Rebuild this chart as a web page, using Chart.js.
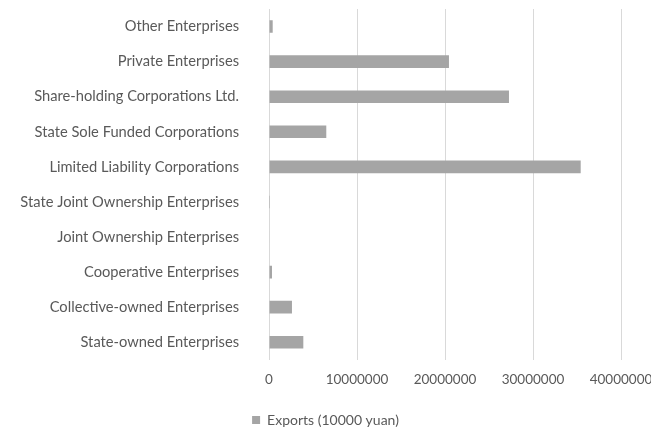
<!DOCTYPE html>
<html>
<head>
<meta charset="utf-8">
<script src="https://cdn.jsdelivr.net/npm/chart.js@4"></script>
<style>
  html, body { margin:0; padding:0; background:#fff; overflow:hidden; }
  #wrap { width:651px; height:432px; }
</style>
</head>
<body>
<div id="wrap"><canvas id="exportsChart" width="651" height="432"></canvas></div>
<script>
// enterprise types, listed top to bottom
const categories = [
  'Other Enterprises',
  'Private Enterprises',
  'Share-holding Corporations Ltd.',
  'State Sole Funded Corporations',
  'Limited Liability Corporations',
  'State Joint Ownership Enterprises',
  'Joint Ownership Enterprises',
  'Cooperative Enterprises',
  'Collective-owned Enterprises',
  'State-owned Enterprises'
];
const exports10k = [420000, 20450000, 27270000, 6510000, 35420000, 10000, 60000, 340000, 2610000, 3900000];
const seriesName = 'Exports (10000 yuan)';
const xTicks = [0, 10000000, 20000000, 30000000, 40000000];

const textColor = '#595959';
const family = 'Lato, "Open Sans", sans-serif';

const ctx = document.getElementById('exportsChart').getContext('2d');
new Chart(ctx, {
  type:'bar',
  data:{
    labels:categories,
    datasets:[{
      label:seriesName,
      data:exports10k,
      backgroundColor:'#a5a5a5',
      barPercentage:0.45,
      categoryPercentage:0.8
    }]
  },
  options:{
    indexAxis:'y',
    responsive:false,
    animation:false,
    // legend row sits low, so let its box run a little past the bottom edge
    layout:{ padding:{ top:9, left:0, right:0, bottom:-5 } },
    scales:{
      x:{
        min:0, max:40000000,
        afterBuildTicks(axis){ axis.ticks = xTicks.map(v => ({ value:v })); },
        // keep the plot edge where the last gridline sits, room below for the legend
        afterFit(axis){ axis.paddingLeft = 0; axis.paddingRight = 30; axis.height += 12; },
        grid:{ color:'#d9d9d9', lineWidth:1, drawTicks:false },
        border:{ display:false },
        ticks:{ color:textColor, font:{ family, size:13.5 }, padding:12, maxRotation:0, callback:v => String(v) }
      },
      y:{
        grid:{ display:false, drawTicks:false },
        border:{ display:false },
        afterFit(axis){ axis.width = 269; axis.paddingTop = 0; axis.paddingBottom = 0; },
        ticks:{ color:textColor, font:{ family, size:14.7 }, padding:30, autoSkip:false }
      }
    },
    plugins:{
      legend:{
        position:'bottom',
        labels:{ color:textColor, font:{ family, size:14 }, boxWidth:8, boxHeight:8, padding:1 }
      },
      tooltip:{ enabled:false }
    }
  }
});
</script>
</body>
</html>
